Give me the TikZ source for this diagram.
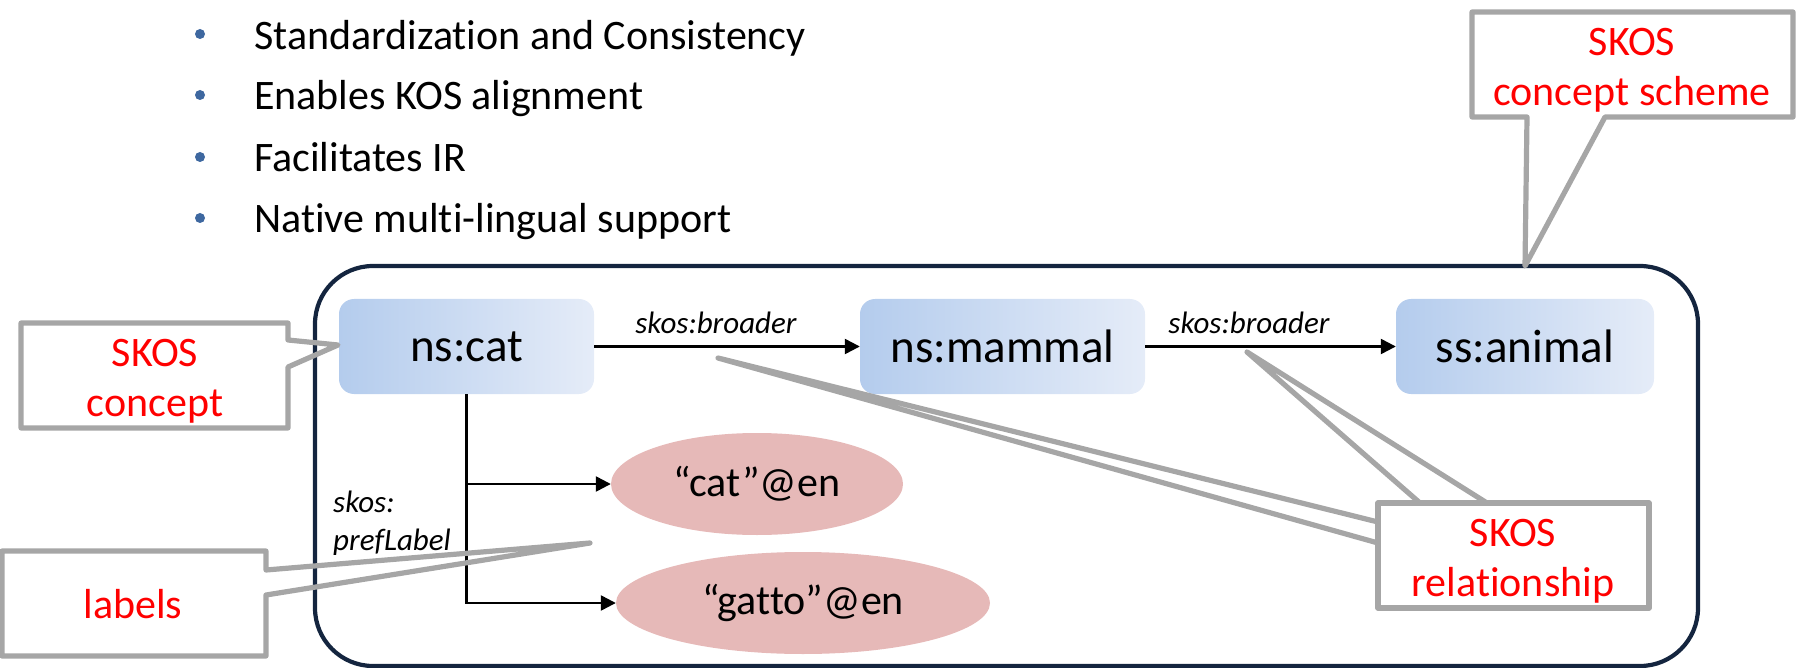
\documentclass[tikz,border=0pt]{standalone}
\usepackage{fontspec}
\setmainfont{Carlito}[Ligatures={NoCommon}]
\usetikzlibrary{arrows.meta,shapes.geometric}
\definecolor{navy}{RGB}{20,37,63}
\definecolor{callgray}{RGB}{166,166,166}
\definecolor{conceptL}{RGB}{180,204,237}
\definecolor{conceptR}{RGB}{229,236,248}
\definecolor{pinkfill}{RGB}{230,185,184}
\definecolor{bulletblue}{RGB}{62,104,160}
\definecolor{callred}{RGB}{255,0,0}
\begin{document}
\begin{tikzpicture}[x=1pt,y=-1pt,
  bullettext/.style={anchor=base west, inner sep=0pt, font=\fontsize{42}{50}\selectfont},
  bulletdot/.style={circle, fill=bulletblue, minimum size=10pt, inner sep=0pt},
  concept/.style={rounded corners=15pt, left color=conceptL, right color=conceptR, minimum height=95pt, inner sep=0pt, font=\fontsize{47}{56}\selectfont},
  literal/.style={ellipse, fill=pinkfill, minimum height=102pt, inner sep=0pt, font=\fontsize{42}{50}\selectfont},
  rel/.style={inner sep=0pt, font=\fontsize{31}{38}\selectfont\itshape},
  link/.style={line width=2.4pt, -{Triangle[length=15pt,width=15pt]}},
  callbox/.style={draw=callgray, line width=5.2pt, line join=round, line cap=round},
  calltext/.style={inner sep=0pt, text=callred, align=center, font=\fontsize{42}{50}\selectfont},
  schemebox/.style={draw=navy, line width=4.2pt, rounded corners=58pt}
]
\useasboundingbox (0,0) rectangle (1796,668);

% bullet list
\node[bulletdot] (d1) at (200,34) {};
\node[bullettext] (b1) at (254,50) {Standardization and Consistency};
\node[bulletdot] (d2) at (200,95) {};
\node[bullettext] (b2) at (254,110) {Enables KOS alignment};
\node[bulletdot] (d3) at (200,157) {};
\node[bullettext] (b3) at (254,172) {Facilitates IR};
\node[bulletdot] (d4) at (200,218) {};
\node[bullettext] (b4) at (254,233) {Native multi-lingual support};

% concept scheme frame
\draw[schemebox] (315,266) rectangle (1698,666);
\coordinate (frametop) at (1525,266);

% concepts
\node[concept, minimum width=255pt] (cat) at (466.5,346.5) {ns:cat};
\node[concept, minimum width=285pt] (mammal) at (1002.5,346.5) {ns:mammal};
\node[concept, minimum width=258pt] (animal) at (1525,346.5) {ss:animal};

% literals
\node[literal, minimum width=292pt] (lcat) at (757,484) {“cat”@en};
\node[literal, minimum width=374pt] (lgatto) at (803,603) {“gatto”@en};

% relations
\draw[link] (cat.east) -- (mammal.west);
\draw[link] (mammal.east) -- (animal.west);
\draw[link] (cat.south) |- (lcat.west);
\draw[link] (cat.south) |- (lgatto.west);

\node[rel, anchor=base] (r1) at (716,334) {skos:broader};
\node[rel, anchor=base] (r2) at (1249,333) {skos:broader};
\node[rel, anchor=north west, align=left] (r3) at (333,491) {skos:\\prefLabel};

% callout: SKOS concept
\coordinate (apexconcept) at (338,345);
\draw[callbox] (21,323) -- (288,323) -- (288,340) -- (apexconcept) -- (288,367) -- (288,428) -- (21,428) -- cycle;
\node[calltext] (tconcept) at (155,381) {SKOS\\concept};

% callout: labels
\coordinate (apexlabels) at (590,543);
\draw[callbox] (2,551) -- (266,551) -- (266,570) -- (apexlabels) -- (266,595) -- (266,656) -- (2,656) -- cycle;
\node[calltext, anchor=base] (tlabels) at (133,618) {labels};

% callout: SKOS concept scheme
\draw[callbox] (1472,12) -- (1793,12) -- (1793,117) -- (1605,117) -- (frametop) -- (1527,117) -- (1472,117) -- cycle;
\node[calltext] (tscheme) at (1632,70) {SKOS\\concept scheme};

% callout: SKOS relationship
\coordinate (apexrel1) at (718,358);
\coordinate (apexrel2) at (1247,352);
\draw[callbox] (1378,503) rectangle (1649,608);
\draw[callbox] (1420,503) -- (apexrel2) -- (1487,503);
\draw[callbox] (1378,522) -- (apexrel1) -- (1378,543);
\node[calltext] (trel) at (1513,561) {SKOS\\relationship};
\end{tikzpicture}
\end{document}
